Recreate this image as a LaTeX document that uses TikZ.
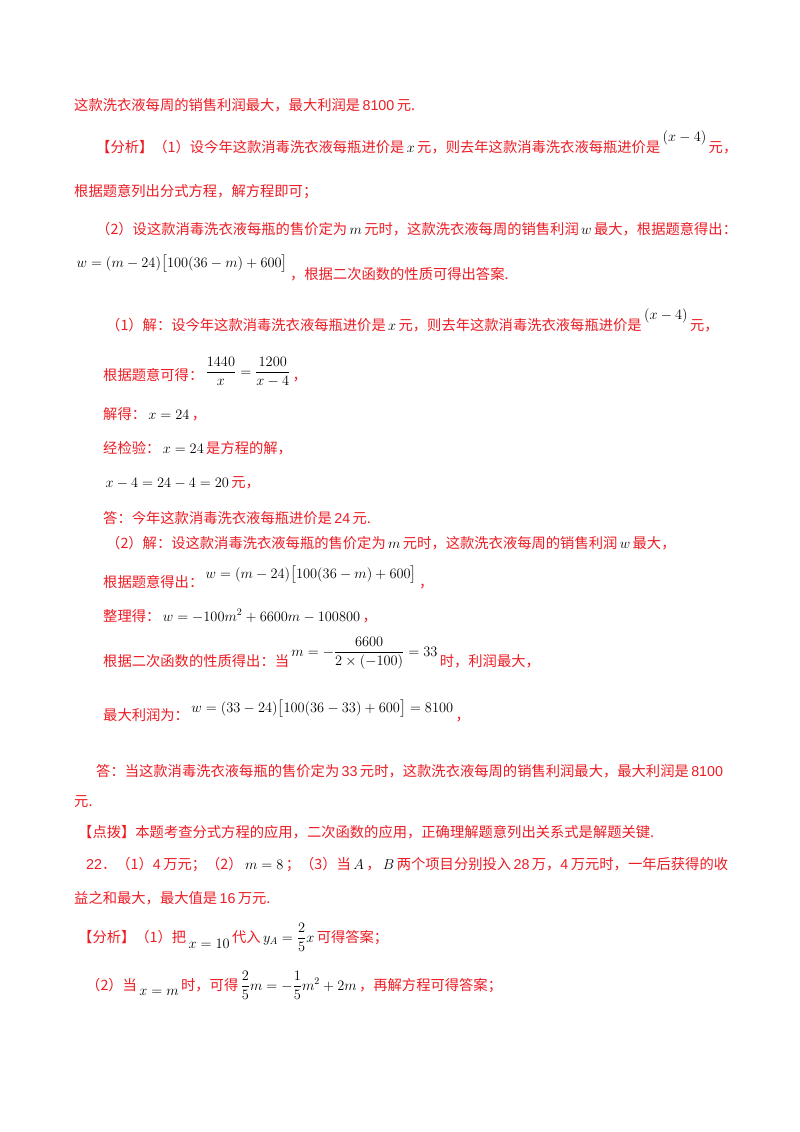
\documentclass[tikz,border=0pt]{standalone}
\usepackage{amsmath}
\usepackage{fontspec}
\setmainfont{Liberation Serif}
\newfontfamily\cjk{Noto Sans CJK SC}
\newfontfamily\lat{Liberation Sans}
\definecolor{ans}{RGB}{236,28,36}
\newcommand{\mm}[1]{{\color{black}\,$#1$\,}}
\begin{document}
\begin{tikzpicture}[x=1pt,y=-1pt,
  ln/.style={anchor=base west,inner sep=0pt,font=\fontsize{14.3}{16}\cjk,text=ans}]
\useasboundingbox (0,0) rectangle (800,1132);
\node[ln] (l1) at (74,110) {这款洗衣液每周的销售利润最大，最大利润是{\lat\,8100\,}元.};
\node[ln] (l2) at (96,152) {【分析】（1）设今年这款消毒洗衣液每瓶进价是\mm{x}元，则去年这款消毒洗衣液每瓶进价是\raisebox{11pt}{\mm{(x-4)}}元，};
\node[ln] (l3) at (74,196) {根据题意列出分式方程，解方程即可；};
\node[ln] (l4) at (96,234) {（2）设这款消毒洗衣液每瓶的售价定为\mm{m}元时，这款洗衣液每周的销售利润\mm{w}最大，根据题意得出：};
\node[ln] (l5) at (74,279) {\raisebox{12pt}{\mm{w=(m-24)\bigl[100(36-m)+600\bigr]}}，根据二次函数的性质可得出答案.};
\node[ln] (l6) at (106,330) {（1）解：设今年这款消毒洗衣液每瓶进价是\mm{x}元，则去年这款消毒洗衣液每瓶进价是\raisebox{11pt}{\mm{(x-4)}}元，};
\node[ln] (l7) at (103,380) {根据题意可得：\raisebox{4pt}{\mm{\dfrac{1440}{x}=\dfrac{1200}{x-4}}}，};
\node[ln] (l8) at (103,419) {解得：\mm{x=24}，};
\node[ln] (l9) at (103,453) {经检验：\mm{x=24}是方程的解，};
\node[ln] (l10) at (103,487) {\mm{x-4=24-4=20}元，};
\node[ln] (l11) at (103,523) {答：今年这款消毒洗衣液每瓶进价是{\lat\,24\,}元.};
\node[ln] (l12) at (106,548) {（2）解：设这款消毒洗衣液每瓶的售价定为\mm{m}元时，这款洗衣液每周的销售利润\mm{w}最大，};
\node[ln] (l13) at (103,587) {根据题意得出：\raisebox{9pt}{\mm{w=(m-24)\bigl[100(36-m)+600\bigr]}}，};
\node[ln] (l14) at (103,621) {整理得：\mm{w=-100m^2+6600m-100800}，};
\node[ln] (l15) at (103,666) {根据二次函数的性质得出：当\raisebox{10pt}{\mm{m=-\dfrac{6600}{2\times(-100)}=33}}时，利润最大，};
\node[ln] (l16) at (103,720) {最大利润为：\raisebox{8pt}{\mm{w=(33-24)\bigl[100(36-33)+600\bigr]=8100}}，};
\node[ln] (l17) at (96,776) {答：当这款消毒洗衣液每瓶的售价定为{\lat\,33\,}元时，这款洗衣液每周的销售利润最大，最大利润是{\lat\,8100}};
\node[ln] (l18) at (74,806) {元.};
\node[ln] (l19) at (78,837) {【点拨】本题考查分式方程的应用，二次函数的应用，正确理解题意列出关系式是解题关键.};
\node[ln] (l20) at (86,869) {{\lat 22}．（1）{\lat 4\,}万元；（2）\mm{m=8}；（3）当\mm{A}，\mm{B}两个项目分别投入{\lat\,28\,}万，{\lat 4\,}万元时，一年后获得的收};
\node[ln] (l21) at (74,903) {益之和最大，最大值是{\lat\,16\,}万元.};
\node[ln] (l22) at (78,942) {【分析】（1）把\raisebox{-6pt}{\mm{x=10}}代入\mm{y_A=\dfrac{2}{5}x}可得答案；};
\node[ln] (l23) at (86,990) {（2）当\raisebox{-5pt}{\mm{x=m}}时，可得\mm{\dfrac{2}{5}m=-\dfrac{1}{5}m^2+2m}，再解方程可得答案；};
\end{tikzpicture}
\end{document}
